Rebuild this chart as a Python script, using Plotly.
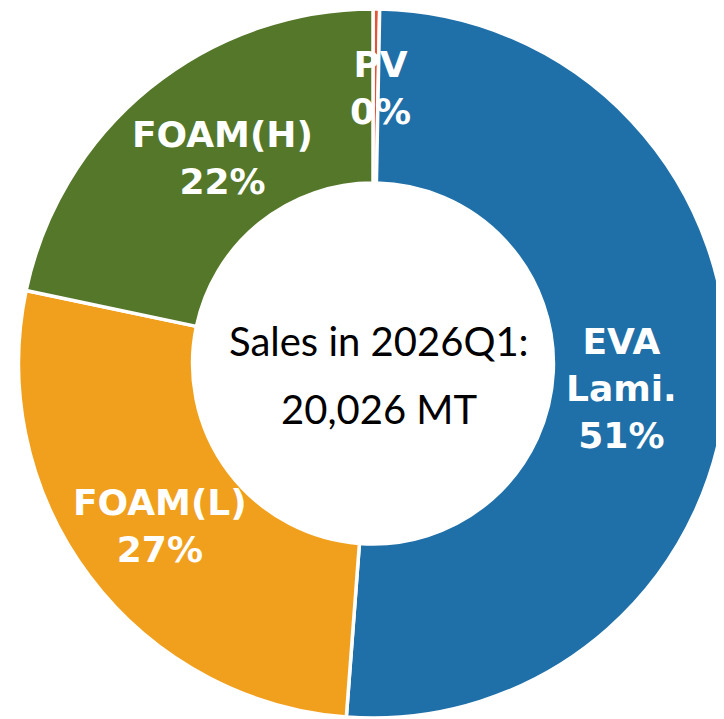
import plotly.graph_objects as go

# Data (MT, 2026Q1)
categories = ["PV", "EVA Lami.", "FOAM(L)", "FOAM(H)"]
sales_mt = [60, 10193, 5427, 4346]
slice_colors = ["#E0553A", "#1F6FA8", "#F1A01E", "#55772A"]
label_lines = ["PV<br>0%", "EVA<br>Lami.<br>51%", "FOAM(L)<br>27%", "FOAM(H)<br>22%"]
center_title = "Sales in 2026Q1:"
center_total = "20,026 MT"

W, H = 724, 719
OFF = 8  # page body margin

def px_x(px):
    return (px - OFF) / W

def px_y(py):
    return 1 - (py - OFF) / H

cx, cy, R = 373, 363.5, 354.5

fig = go.Figure(
    go.Pie(
        labels=categories,
        values=sales_mt,
        sort=False,
        direction="clockwise",
        rotation=0,
        hole=0.509,
        textinfo="none",
        hoverinfo="label+value+percent",
        marker=dict(colors=slice_colors, line=dict(color="white", width=3.5)),
        domain=dict(x=[px_x(cx - R), px_x(cx + R)], y=[px_y(cy + R), px_y(cy - R)]),
        showlegend=False,
    )
)

# label positions (pixel centres) in the ring
label_pos = [(380, 88), (621, 388), (160, 526), (222, 158)]
label_font = dict(family="DejaVu Sans", size=36, color="white", weight="bold")
for txt, (px, py) in zip(label_lines, label_pos):
    fig.add_annotation(
        x=px_x(px), y=px_y(py), xref="paper", yref="paper",
        text=txt, showarrow=False, font=label_font,
        xanchor="center", yanchor="middle", align="center",
    )

center_font = dict(family="Lato", size=40, color="black")
fig.add_annotation(x=px_x(379), y=px_y(341), xref="paper", yref="paper",
                   text=center_title, showarrow=False, font=center_font,
                   xanchor="center", yanchor="middle")
fig.add_annotation(x=px_x(379), y=px_y(409), xref="paper", yref="paper",
                   text=center_total, showarrow=False, font=center_font,
                   xanchor="center", yanchor="middle")

fig.update_layout(
    width=W, height=H,
    margin=dict(l=0, r=0, t=0, b=0),
    paper_bgcolor="white", plot_bgcolor="white",
)

fig.write_html("out.html")
